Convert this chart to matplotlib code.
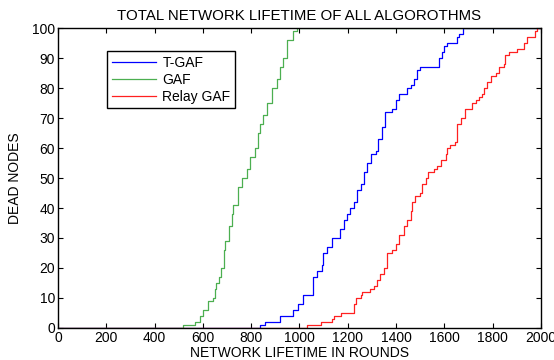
import matplotlib
matplotlib.use("Agg")
import matplotlib.pyplot as plt

# dead nodes vs round (step points)
tgaf_rounds = [0, 836, 857, 919, 974, 995, 1016, 1057, 1071, 1092, 1099, 1113, 1133, 1168,
               1183, 1197, 1211, 1225, 1239, 1253, 1266, 1280, 1297, 1315, 1324, 1342, 1356,
               1384, 1398, 1411, 1446, 1460, 1473, 1487, 1501, 1577, 1591, 1598, 1611, 1653,
               1662, 1678, 2000]
tgaf_dead = [0, 1, 2, 4, 6, 8, 11, 17, 19, 21, 25, 27, 30, 33,
             36, 38, 40, 42, 46, 48, 52, 55, 58, 59, 63, 67, 72,
             73, 76, 78, 80, 81, 83, 86, 87, 90, 92, 94, 95, 97,
             98, 100, 100]

gaf_rounds = [0, 518, 567, 588, 602, 622, 643, 650, 654, 668, 677, 689, 692, 709, 719, 726,
              747, 760, 781, 795, 816, 829, 836, 850, 864, 885, 906, 919, 933, 947, 972,
              988, 2000]
gaf_dead = [0, 1, 2, 4, 6, 9, 10, 13, 15, 17, 20, 26, 29, 34, 38, 41,
            47, 50, 53, 57, 60, 65, 68, 71, 75, 80, 83, 87, 90, 96, 99,
            100, 100]

relay_rounds = [0, 1032, 1087, 1135, 1142, 1170, 1225, 1232, 1253, 1260, 1294, 1308, 1322,
                1335, 1350, 1363, 1384, 1398, 1411, 1432, 1446, 1460, 1467, 1480, 1501, 1508,
                1522, 1531, 1556, 1570, 1584, 1605, 1611, 1625, 1646, 1653, 1667, 1687, 1715,
                1729, 1743, 1756, 1763, 1777, 1791, 1812, 1825, 1846, 1853, 1867, 1901, 1929,
                1943, 1977, 1984, 2000]
relay_dead = [0, 1, 2, 3, 4, 5, 8, 10, 11, 12, 13, 14, 16,
              18, 20, 25, 26, 28, 31, 34, 36, 39, 42, 44, 45, 48,
              50, 52, 53, 54, 56, 58, 60, 61, 62, 68, 70, 73, 75,
              76, 77, 78, 80, 82, 84, 85, 87, 88, 91, 92, 93, 95,
              97, 99, 100, 100]

plt.rcParams['font.family'] = ['Liberation Sans', 'DejaVu Sans']

fig = plt.figure(figsize=(5.54, 3.6), dpi=100)
ax = fig.add_axes([0.1047, 0.0889, 0.8718, 0.8333])

ax.plot(tgaf_rounds, tgaf_dead, drawstyle='steps-post', color='#0000ff', lw=0.9, label='T-GAF')
ax.plot(gaf_rounds, gaf_dead, drawstyle='steps-post', color='#4caf50', lw=0.9, label='GAF')
ax.plot(relay_rounds, relay_dead, drawstyle='steps-post', color='#ff2020', lw=0.9, label='Relay GAF')

ax.set_xlim(0, 2000)
ax.set_ylim(0, 100)
ax.set_xticks(range(0, 2001, 200))
ax.set_yticks(range(0, 101, 10))
ax.tick_params(direction='in', top=True, right=True, labelsize=10, length=3.5, pad=2)
for s in ax.spines.values():
    s.set_linewidth(1.0)

ax.set_title("TOTAL NETWORK LIFETIME OF ALL ALGOROTHMS", fontsize=10.8, pad=6)
ax.set_xlabel("NETWORK LIFETIME IN ROUNDS", fontsize=10, labelpad=1)
ax.set_ylabel("DEAD NODES", fontsize=10, labelpad=7)

leg = ax.legend(loc='upper left', bbox_to_anchor=(0.101, 0.923), fontsize=10,
                fancybox=False, framealpha=1, edgecolor='black', borderpad=0.35,
                handlelength=3.2, handletextpad=0.45, labelspacing=0.2, borderaxespad=0)
leg.get_frame().set_linewidth(1.0)

fig.savefig("out.png", dpi=100)
